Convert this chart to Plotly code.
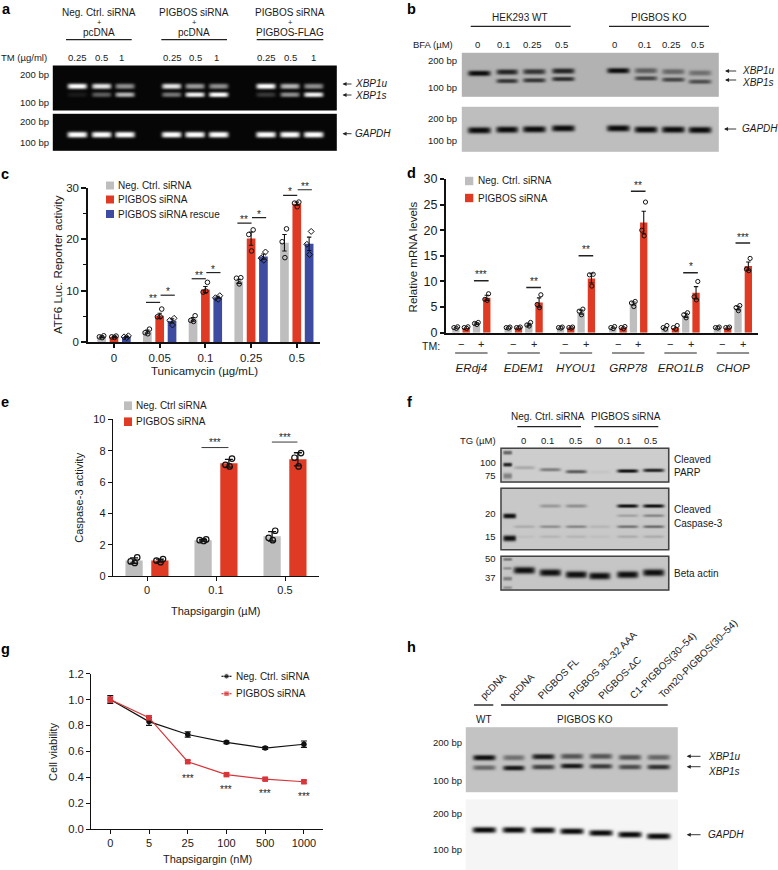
import numpy as np
import plotly.graph_objects as go

W, H = 778, 870
FONT = "Liberation Sans"
GREY, RED, BLUE = "#BDBEBD", "#DF3B24", "#3D4CA0"

# ---- panel c
c_doses = ["0", "0.05", "0.1", "0.25", "0.5"]
c_neg = [1.0, 2.0, 4.4, 11.8, 19.3]
c_pig = [1.0, 5.1, 10.2, 20.1, 26.9]
c_res = [1.0, 4.1, 8.7, 16.6, 19.1]
c_neg_err = [0.15, 0.3, 0.35, 0.4, 1.6]
c_pig_err = [0.1, 0.5, 0.6, 1.3, 0.3]
c_res_err = [0.1, 0.4, 0.2, 0.5, 1.3]
c_neg_pts = [[1.2, 1.0, 0.85], [2.5, 1.8, 1.6], [5.1, 4.2, 4.0], [12.5, 12.4, 11.3], [22.0, 19.5, 16.4]]
c_pig_pts = [[1.15, 1.0, 0.9], [6.4, 4.9, 4.9], [11.6, 9.7, 9.9], [21.8, 20.9, 17.7], [27.2, 27.0, 26.3]]
c_res_pts = [[1.2, 1.0, 0.85], [4.6, 4.2, 3.3], [9.0, 8.6, 8.3], [17.5, 16.3, 15.9], [21.5, 19.0, 17.0]]

# ---- panel d
d_genes = ["ERdj4", "EDEM1", "HYOU1", "GRP78", "ERO1LB", "CHOP"]
d_neg_minus = [1.0, 1.0, 1.0, 1.0, 1.0, 1.0]
d_pig_minus = [0.9, 1.0, 1.0, 0.95, 0.9, 0.95]
d_neg_plus = [1.8, 1.6, 4.0, 5.7, 3.4, 4.8]
d_pig_plus = [6.8, 5.9, 10.6, 21.5, 7.8, 13.0]
d_neg_plus_err = [0.15, 0.25, 0.4, 0.3, 0.4, 0.35]
d_pig_plus_err = [0.5, 0.9, 0.9, 2.2, 1.2, 0.8]
d_neg_plus_pts = [[2.0, 1.8, 1.6], [2.0, 1.5, 1.3], [4.6, 4.2, 3.5], [6.1, 5.8, 5.1], [3.9, 3.5, 2.9], [5.3, 4.9, 4.3]]
d_pig_plus_pts = [[7.6, 6.5, 6.3], [7.4, 5.5, 4.9], [11.4, 11.3, 9.1], [25.5, 20.0, 18.9], [10.0, 7.0, 6.4], [14.5, 12.4, 12.1]]
d_minus_pts = [[1.15, 1.0, 0.85], [1.1, 1.0, 0.9], [1.1, 1.0, 0.9], [1.2, 1.0, 0.8], [1.4, 1.0, 0.7], [1.1, 1.0, 0.9]]
d_sig_y = [10.15, 8.8, 15.0, 27.6, 11.7, 17.5]
d_sig_txt = ["***", "**", "**", "**", "*", "***"]

# ---- panel e
e_doses = ["0", "0.1", "0.5"]
e_neg = [1.0, 2.3, 2.55]
e_pig = [1.0, 7.2, 7.45]
e_neg_err = [0.17, 0.05, 0.3]
e_pig_err = [0.1, 0.25, 0.42]
e_neg_pts = [[1.2, 0.95, 0.85], [2.35, 2.3, 2.25], [2.9, 2.45, 2.3]]
e_pig_pts = [[1.1, 1.0, 0.9], [7.5, 7.1, 7.0], [7.85, 7.55, 7.0]]

# ---- panel g
g_doses = ["0", "5", "25", "100", "500", "1000"]
g_neg = [1.0, 0.83, 0.73, 0.67, 0.625, 0.655]
g_neg_err = [0.03, 0.03, 0.02, 0.01, 0.01, 0.025]
g_pig = [1.0, 0.86, 0.52, 0.42, 0.385, 0.365]
g_pig_err = [0.02, 0.015, 0.01, 0.01, 0.01, 0.01]
g_star_y = [0.417, 0.327, 0.294, 0.276]

# ---- gel band intensities
a_u = [1, .9, .55, .9, .6, .55, 1, .7, .55]
a_s = [.08, .35, .7, .45, .95, 1, .2, .55, .95]
b_u = [1, .85, .75, .85, 1, .5, .45, .4]
b_s = [0, .75, .75, .8, 0, .65, .65, .6]
f_parp = [.18, .4, .6, .04, 1, .9]
f_c1 = [0, .25, .3, 0, 1, 1]
f_c2 = [0, 0, 0, 0, .2, .35]
f_c3 = [.15, .3, .35, .1, .45, .5]
f_c4 = [.05, .1, .1, .05, .15, .15]
h_u = [1, .45, .9, .6, .6, .6, .5]
h_s = [.5, .95, .7, .95, .75, .65, .8]

fig = go.Figure()
shapes, annos = [], []


def ax_id(a):
    return "" if a == 1 else str(a)


def px(x):
    return x / W


def py(y):
    return 1 - y / H


def T(x, y, s, size=10, anchor="center", italic=False, angle=0, bold=False, color="#1a1a1a"):
    if italic:
        s = f"<i>{s}</i>"
    if bold:
        s = f"<b>{s}</b>"
    annos.append(dict(x=px(x), y=py(y), xref="paper", yref="paper", text=s, showarrow=False,
                      xanchor=anchor, yanchor="middle", textangle=angle, borderpad=0, borderwidth=0,
                      font=dict(family=FONT, size=size, color=color)))


def L(x0, x1, y, w=1.2, color="#222"):
    shapes.append(dict(type="line", xref="paper", yref="paper", x0=px(x0), x1=px(x1), y0=py(y), y1=py(y),
                       line=dict(color=color, width=w)))


def R(x0, y0, x1, y1, fill=None, line=None, lw=1):
    shapes.append(dict(type="rect", xref="paper", yref="paper", x0=px(x0), x1=px(x1), y0=py(y0), y1=py(y1),
                       fillcolor=fill or "rgba(0,0,0,0)", line=dict(color=line or "rgba(0,0,0,0)", width=lw if line else 0)))


def ARROW(tail, head, y):
    annos.append(dict(x=px(head), y=py(y), ax=tail - head, ay=0, xref="paper", yref="paper", axref="pixel",
                      ayref="pixel", text="", showarrow=True, arrowhead=2, arrowsize=0.9, arrowwidth=0.9,
                      arrowcolor="#222", standoff=0, startstandoff=0))


def gel(x0, y0, x1, y1, bg, fg, bands, border=None):
    xs = np.arange(x0, x1 + 0.5, 1.0)
    ys = np.arange(y0, min(y1, H) + 0.5, 1.0)
    X, Y = np.meshgrid(xs, ys)
    amount = np.zeros_like(X)
    for xc, yc, w, h, inten in bands:
        prof = np.exp(-np.abs((X - xc) / (w / 2)) ** 6) * np.exp(-np.abs((Y - yc) / (h / 2)) ** 2.6)
        amount = np.maximum(amount, inten * prof)
    z = bg + (fg - bg) * amount
    fig.add_trace(go.Heatmap(x=xs, y=ys, z=z, zmin=0, zmax=255, showscale=False, zsmooth="best",
                             colorscale=[[0, "black"], [1, "white"]], hoverinfo="skip", xaxis="x5", yaxis="y5"))
    if border:
        R(x0, y0, x1, y1, line=border, lw=1.5)


def rows(lanes, ys, vals, w, h):
    return [(x, y, w, h, v) for x, y, v in zip(lanes, ys, vals)]


JIT = [0.045, -0.05, 0.01]


def dots(xc, pts, axis, scale=1.0, size=4.6, symbol="circle", lw=1):
    xx, yy = [], []
    for x, p in zip(xc, pts):
        for j, v in zip(JIT, p):
            xx.append(x + j * scale)
            yy.append(v)
    fig.add_trace(go.Scatter(x=xx, y=yy, mode="markers", xaxis=f"x{ax_id(axis)}", yaxis=f"y{ax_id(axis)}", cliponaxis=False,
                             marker=dict(symbol=symbol, size=size, color="rgba(0,0,0,0)",
                                         line=dict(color="#111", width=lw)), hoverinfo="skip"))


def bars(xc, vals, errs, color, axis, width, cap=2.2, thick=1.1):
    kw = {}
    if errs is not None:
        kw["error_y"] = dict(type="data", array=errs, color="#111", thickness=thick, width=cap)
    fig.add_trace(go.Bar(x=xc, y=vals, width=width, marker=dict(color=color, line=dict(width=0)),
                         xaxis=f"x{ax_id(axis)}", yaxis=f"y{ax_id(axis)}", **kw))


def sig(axis, x0, x1, y, s, lw=1.2, ystar=3.5):
    a = ax_id(axis)
    shapes.append(dict(type="line", xref=f"x{a}", yref=f"y{a}", x0=x0, x1=x1, y0=y, y1=y,
                       line=dict(color="#222", width=lw)))
    annos.append(dict(x=(x0 + x1) / 2, y=y, xref=f"x{a}", yref=f"y{a}", text=s, showarrow=False,
                      yshift=ystar, xanchor="center", yanchor="middle",
                      font=dict(family=FONT, size=10, color="#222")))


# ===================== panel c
idx = np.arange(5)
OFF_C, BW_C = 0.27, 0.19
bars(idx - OFF_C, c_neg, c_neg_err, GREY, 1, BW_C)
bars(idx, c_pig, c_pig_err, RED, 1, BW_C)
bars(idx + OFF_C, c_res, c_res_err, BLUE, 1, BW_C)
dots(idx - OFF_C, c_neg_pts, 1)
dots(idx, c_pig_pts, 1)
dots(idx + OFF_C, c_res_pts, 1, symbol="diamond", size=4.6)
c_sig = [(1, 7.7, "**", 9.1, "*"), (2, 12.3, "**", 13.5, "*"), (3, 23.1, "**", 24.2, "*"), (4, 28.5, "*", 29.6, "**")]
for i, y1, s1, y2, s2 in c_sig:
    sig(1, i - 0.30, i + 0.01, y1, s1)
    sig(1, i + 0.02, i + 0.33, y2, s2)
T(58, 265, "ATF6 Luc. Reporter activity", 11.5, angle=-90)
T(204, 371, "Tunicamycin (µg/mL)", 11.5)
for y, col, txt in [(185.5, GREY, "Neg. Ctrl. siRNA"), (199.5, RED, "PIGBOS siRNA"), (214, BLUE, "PIGBOS siRNA rescue")]:
    R(106, y - 4, 114, y + 4, fill=col)
    T(118.3, y, txt, 10, anchor="left")

# ===================== panel d
di = np.arange(6)
SP_D, BW_D = 0.197, 0.14
bars(di - 1.5 * SP_D, d_neg_minus, None, GREY, 2, BW_D)
bars(di - 0.5 * SP_D, d_pig_minus, None, RED, 2, BW_D)
bars(di + 0.5 * SP_D, d_neg_plus, d_neg_plus_err, GREY, 2, BW_D)
bars(di + 1.5 * SP_D, d_pig_plus, d_pig_plus_err, RED, 2, BW_D)
dots(di - 1.5 * SP_D, d_minus_pts, 2, scale=0.75, size=4.2)
dots(di - 0.5 * SP_D, d_minus_pts, 2, scale=0.75, size=4.2)
dots(di + 0.5 * SP_D, d_neg_plus_pts, 2, scale=0.75, size=4.2)
dots(di + 1.5 * SP_D, d_pig_plus_pts, 2, scale=0.75, size=4.2)
for i, (y, s) in enumerate(zip(d_sig_y, d_sig_txt)):
    sig(2, i + 0.05, i + 0.33, y, s, lw=1.5, ystar=6)
    # -/+ row and underline under each gene
    for dx, ch in [(-0.2, "−"), (0.19, "+")]:
        annos.append(dict(x=i + dx, y=py(344), xref="x2", yref="paper", text=ch, showarrow=False,
                          font=dict(family=FONT, size=11, color="#222")))
    shapes.append(dict(type="line", xref="x2", yref="paper", x0=i - 0.31, x1=i + 0.31, y0=py(353), y1=py(353),
                       line=dict(color="#222", width=1.1)))
T(431, 346, "TM:", 10.5)
T(412.7, 256.7, "Relative mRNA levels", 11.5, angle=-90)
for y, col, txt in [(181, GREY, "Neg. Ctrl. siRNA"), (198, RED, "PIGBOS siRNA")]:
    R(465, y - 4.2, 473.3, y + 4.2, fill=col)
    T(478.3, y, txt, 10, anchor="left")

# ===================== panel e
ei = np.arange(3)
OFF_E, BW_E = 0.187, 0.25
bars(ei - OFF_E, e_neg, e_neg_err, GREY, 3, BW_E, cap=4, thick=1.3)
bars(ei + OFF_E, e_pig, e_pig_err, RED, 3, BW_E, cap=4, thick=1.3)
dots(ei - OFF_E, e_neg_pts, 3, scale=1, size=5.5, lw=1.2)
dots(ei + OFF_E, e_pig_pts, 3, scale=1, size=5.5, lw=1.2)
sig(3, 0.79, 1.18, 8.2, "***", lw=0.9, ystar=5)
sig(3, 1.81, 2.18, 8.55, "***", lw=0.9, ystar=5)
T(78.7, 498, "Caspase-3 activity", 11, angle=-90)
T(215, 611, "Thapsigargin (µM)", 11)
for y, col, txt in [(405.7, GREY, "Neg. Ctrl siRNA"), (421.7, RED, "PIGBOS siRNA")]:
    R(124, y - 4.3, 132, y + 4.3, fill=col)
    T(136, y, txt, 10, anchor="left")

# ===================== panel g
gi = np.arange(6)
fig.add_trace(go.Scatter(x=gi, y=g_neg, mode="lines+markers", xaxis="x4", yaxis="y4", cliponaxis=False,
                         line=dict(color="#111", width=1.2), marker=dict(symbol="circle", size=5.5, color="#111"),
                         error_y=dict(type="data", array=g_neg_err, color="#111", thickness=1.2, width=3)))
fig.add_trace(go.Scatter(x=gi, y=g_pig, mode="lines+markers", xaxis="x4", yaxis="y4", cliponaxis=False,
                         line=dict(color="#D8363A", width=1.2), marker=dict(symbol="square", size=5.5, color="#D8363A"),
                         error_y=dict(type="data", array=g_pig_err, color="#D8363A", thickness=1.2, width=3)))
for i, y in zip(gi[2:], g_star_y):
    annos.append(dict(x=int(i), y=y, xref="x4", yref="y4", text="***", showarrow=False, yshift=-3,
                      font=dict(family=FONT, size=10, color="#222")))
T(52.3, 751.7, "Cell viability", 11, angle=-90)
T(207, 859.3, "Thapsigargin (nM)", 11)
for xa, ya, col, sym in [(226.5, 676.3, "#111", "circle"), (226.5, 693.7, "#D8363A", "square")]:
    fig.add_trace(go.Scatter(x=[xa - 5, xa, xa + 5], y=[ya, ya, ya], mode="lines+markers", xaxis="x5", yaxis="y5",
                             line=dict(color=col, width=1.2), hoverinfo="skip",
                             marker=dict(symbol=sym, size=[0, 5.5, 0], color=col)))
T(236.3, 676.3, "Neg. Ctrl. siRNA", 10, anchor="left")
T(236.3, 693.7, "PIGBOS siRNA", 10, anchor="left")

# ===================== panel a
a_lanes = [v / 3 for v in [229, 302, 372, 512, 582, 653, 795, 867, 938]]
gel(53.3, 66, 336.7, 110, 6, 255, rows(a_lanes, [85.3] * 9, a_u, 19.5, 5.5) + rows(a_lanes, [93.7] * 9, a_s, 19.5, 5))
gel(53.3, 114.3, 336.7, 150.7, 6, 255, rows(a_lanes, [133.7] * 9, [1] * 9, 20, 6))
for xc, top, x0, x1 in [(99, "Neg. Ctrl. siRNA", 66, 131.7), (194, "PIGBOS siRNA", 161.3, 227), (290, "PIGBOS siRNA", 256.7, 323.3)]:
    T(xc, 12, top, 10)
    T(xc, 22.4, "+", 7.5)
    T(xc, 32.3, "PIGBOS-FLAG" if xc == 290 else "pcDNA", 10)
    L(x0, x1, 39.7)
T(0.5, 58, "TM (µg/ml)", 9.5, anchor="left")
for v, s in zip([233, 304, 365, 516, 587, 648, 798, 871, 940], ["0.25", "0.5", "1"] * 3):
    T(v / 3, 58, s, 9.5)
for y, s in [(74.7, "200 bp"), (102, "100 bp"), (122, "200 bp"), (142.7, "100 bp")]:
    T(48.5, y, s, 9.5, anchor="right")
for y, ty, s in [(84, 84, "XBP1u"), (95, 95, "XBP1s"), (133.7, 133.7, "GAPDH")]:
    ARROW(353, 342.5, y)
    T(355, ty, s, 10, anchor="left", italic=True)

# ===================== panel b
b_l = [400 + v / 3 for v in [235, 320, 403, 490, 655, 738, 820, 900]]
b_uy = [v / 3 for v in [217, 213, 212, 210, 209, 209, 212, 216]]
b_sy = [v / 3 for v in [240, 240, 238, 234, 232, 232, 236, 242]]
b_gy = [v / 3 for v in [388, 386, 385, 382, 382, 386, 386, 387]]
gel(462.3, 53.3, 718.3, 96.7, 178, 12, rows(b_l, b_uy, b_u, 22.5, 5.5) + rows(b_l, b_sy, b_s, 22.5, 4.5))
gel(462.3, 107.3, 718.3, 151.7, 190, 10, rows(b_l, b_gy, [1] * 8, 23, 6.5))
T(520, 17.7, "HEK293 WT", 10)
T(659, 17.7, "PIGBOS KO", 10)
L(470.7, 570.7, 26.3)
L(609, 709, 26.3)
T(413, 44.3, "BFA (µM)", 9.5, anchor="left")
for v, s in zip([231, 312, 398, 484, 644, 733, 814, 893], ["0", "0.1", "0.25", "0.5"] * 2):
    T(400 + v / 3, 44.3, s, 9.5)
for y, s in [(60.7, "200 bp"), (87.7, "100 bp"), (118, "200 bp"), (140.3, "100 bp")]:
    T(457.5, y, s, 9.5, anchor="right")
ARROW(737.7, 725, 71)
ARROW(737.7, 725, 80)
ARROW(737.7, 724, 129)
T(742.3, 70.3, "XBP1u", 10, anchor="left", italic=True)
T(742.3, 82, "XBP1s", 10, anchor="left", italic=True)
T(742.3, 129, "GAPDH", 10, anchor="left", italic=True)

# ===================== panel f
f_l = [400 + v / 3 for v in [370, 448, 526, 596, 680, 758]]
zy = lambda v: 385 + v / 3
lad = 400 + 320 / 3
gel(501, 448.3, 668.7, 482, 205, 15,
    rows(f_l, [zy(v) for v in [245, 251, 257, 258, 255, 253]], f_parp, 21, 3.6)
    + [(lad, zy(236), 9, 4, .9), (lad, zy(200), 9, 4, .55), (lad, zy(270), 9, 6, .4)], border="#444")
gel(501, 488.3, 668.7, 549.7, 200, 15,
    rows(f_l, [zy(360)] * 6, f_c1, 21, 3.6) + rows(f_l, [zy(392)] * 6, f_c2, 21, 3)
    + rows(f_l, [zy(425)] * 6, f_c3, 21, 3) + rows(f_l, [zy(455)] * 6, f_c4, 21, 3)
    + [(lad + 2, zy(393), 13, 5, 1), (lad + 2, zy(460), 13, 6, 1)], border="#444")
gel(501, 556.3, 668.7, 590, 198, 15,
    rows(f_l, [zy(v) for v in [553, 560, 566, 570, 566, 560]], [1] * 6, 21.5, 7)
    + [(lad, zy(520), 9, 3, .45), (lad, zy(547), 9, 3, .3), (lad, zy(578), 9, 4, .4), (lad, zy(605), 9, 3, .3)], border="#444")
T(548, 417, "Neg. Ctrl. siRNA", 10)
T(626, 417, "PIGBOS siRNA", 10)
L(517.3, 581, 426.7)
L(594.3, 658.3, 426.7)
T(496.5, 440.7, "TG (µM)", 9.5, anchor="right")
for v, s in zip([370, 443, 525, 596, 673, 752], ["0", "0.1", "0.5"] * 2):
    T(400 + v / 3, 440.7, s, 9.5)
for y, s in [(462.3, "100"), (475.7, "75"), (513.7, "20"), (536.3, "15"), (558, "50"), (577.3, "37")]:
    T(496.5, y, s, 9.5, anchor="right")
for y, s in [(459.3, "Cleaved"), (472.7, "PARP"), (509.7, "Cleaved"), (523, "Caspase-3"), (573.7, "Beta actin")]:
    T(674, y, s, 10, anchor="left")

# ===================== panel h
h_l = [400 + v / 3 for v in [250, 340, 430, 516, 603, 690, 776]]
hz = lambda v: 630 + v / 3
gel(466.3, 727.7, 677.7, 792, 195, 12,
    rows(h_l, [hz(v) for v in [380, 380, 377, 376, 376, 379, 379]], h_u, 22.5, 5.5)
    + rows(h_l, [hz(v) for v in [410, 411, 408, 405, 406, 408, 408]], h_s, 22.5, 5))
gel(466.3, 800, 677.7, 870, 245, 8, rows(h_l, [hz(v) for v in [597, 597, 598, 601, 606, 611, 616]], [1] * 7, 23.5, 6))
h_names = [("pcDNA", 278, 168), ("pcDNA", 363, 168), ("PIGBOS FL", 475, 146), ("PIGBOS 30–32 AAA", 607, 105),
           ("PIGBOS-ΔC", 660, 143), ("C1-PIGBOS(30–54)", 788, 105), ("Tom20-PIGBOS(30–54)", 895, 86)]
for s, a, b in h_names:
    T(400 + a / 3, hz(b), s, 10, angle=-45)
L(474, 493.3, 705, w=1.4)
L(501, 667.7, 705, w=1.4)
T(484, 719.3, "WT", 10)
T(585.3, 719.3, "PIGBOS KO", 10)
for y, s in [(742.3, "200 bp"), (780.3, "100 bp"), (813.7, "200 bp"), (849.7, "100 bp")]:
    T(461.7, y, s, 9.5, anchor="right")
ARROW(702, 686.7, 756.3)
ARROW(702, 686.7, 766.7)
ARROW(702, 686.7, 834.7)
T(707.7, 756, "XBP1u", 10, anchor="left", italic=True)
T(707.7, 771.3, "XBP1s", 10, anchor="left", italic=True)
T(707.7, 834.3, "GAPDH", 10, anchor="left", italic=True)

# ===================== panel letters
for x, y, s in [(2, 8.6, "a"), (407, 8.6, "b"), (1, 174, "c"), (407, 173, "d"), (1, 402, "e"), (407, 402, "f"), (1, 649, "g"), (407, 647, "h")]:
    T(x, y, s, 14.5, anchor="left", bold=True, color="#000")


def dom_x(a, b):
    return [a / W, b / W]


def dom_y(top, bottom):
    return [1 - bottom / H, 1 - top / H]


def font(size):
    return dict(family=FONT, size=size, color="#1a1a1a")


common = dict(showgrid=False, zeroline=False, showline=True, linecolor="#111", ticks="outside", tickcolor="#111")

layout = dict(
    width=W, height=H, margin=dict(l=0, r=0, t=0, b=0, autoexpand=False), paper_bgcolor="white", plot_bgcolor="rgba(0,0,0,0)",
    showlegend=False, barmode="overlay", font=dict(family=FONT), shapes=shapes, annotations=annos,
    xaxis=dict(domain=dom_x(88, 320), anchor="y", range=[-0.569, 4.508], tickvals=list(range(5)), ticktext=c_doses,
               linewidth=2, tickwidth=1.5, ticklen=4, tickfont=font(11.5), **common),
    yaxis=dict(domain=dom_y(187.7, 342), anchor="x", range=[0, 30], tick0=0, dtick=10, linewidth=1.5, tickwidth=1.5, ticklen=5,
               tickfont=font(11.5), minor=dict(dtick=5, tick0=0, ticks="outside", ticklen=3, tickwidth=1.2, tickcolor="#111"), **common),
    xaxis2=dict(domain=dom_x(445.7, 758), anchor="y2", range=[-0.49, 5.48], tickvals=list(range(6)),
                ticktext=[f"<i>{g}</i>" for g in d_genes], ticklen=0, ticklabelstandoff=24,
                linewidth=1.7, tickfont=font(11.6), **{**common, "ticks": ""}),
    yaxis2=dict(domain=dom_y(179, 332.7), anchor="x2", range=[0, 30], dtick=5, linewidth=1.5, tickwidth=1.5, ticklen=4, tickfont=font(12.5), **common),
    xaxis3=dict(domain=dom_x(112.7, 319.3), anchor="y3", range=[-0.497, 2.497], tickvals=list(range(3)), ticktext=e_doses,
                linewidth=1, tickwidth=1, ticklen=3.5, tickfont=font(11), **common),
    yaxis3=dict(domain=dom_y(419.3, 576.3), anchor="x3", range=[0, 10], dtick=2, linewidth=1, tickwidth=1, ticklen=4, tickfont=font(11), **common),
    xaxis4=dict(domain=dom_x(91.3, 323.3), anchor="y4", range=[-0.49, 5.5], tickvals=list(range(6)), ticktext=g_doses,
                linewidth=1.3, tickwidth=1.3, ticklen=4, tickfont=font(11), **common),
    yaxis4=dict(domain=dom_y(673.7, 829), anchor="x4", range=[0, 1.2], dtick=0.2, tickformat=".1f", linewidth=1.3, tickwidth=1.3, ticklen=4, tickfont=font(11.3), **common),
    xaxis5=dict(domain=[0, 1], anchor="y5", range=[0, W], visible=False, fixedrange=True),
    yaxis5=dict(domain=[0, 1], anchor="x5", range=[H, 0], visible=False, fixedrange=True),
)
fig.update_layout(**layout)
fig.write_html("out.html", config=dict(displayModeBar=False),
               post_script="document.body.style.margin='0';document.documentElement.style.overflow='hidden';")
